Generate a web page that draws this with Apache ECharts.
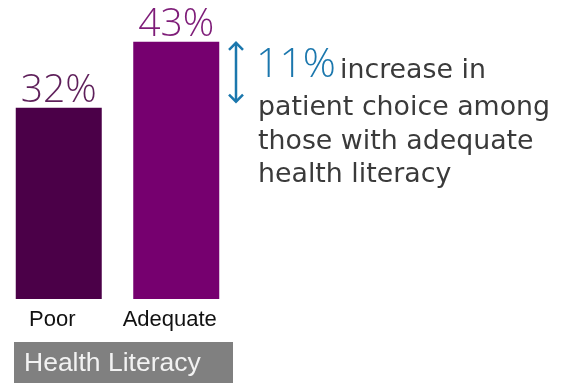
<!DOCTYPE html>
<html>
<head>
<meta charset="utf-8">
<script src="https://cdn.jsdelivr.net/npm/echarts@6/dist/echarts.min.js"></script>
<style>
  html, body { margin: 0; padding: 0; background: #fff; }
  #chart { width: 561px; height: 383px; }
</style>
</head>
<body>
<div id="chart"></div>
<script>
// Share of patients choosing, by health literacy level
const categories = ['Poor', 'Adequate'];
const values = [32, 43];
const barColors = ['#4b0048', '#76006f'];
const labelColors = ['#5e1f5a', '#7e1c78'];
const axisTitle = 'Health Literacy';
const noteHeadline = '11%';
const noteLines = ['increase in', 'patient choice among', 'those with adequate', 'health literacy'];

const chart = echarts.init(document.getElementById('chart'), null, { renderer: 'canvas' });

const option = {
  animation: false,
  grid: { left: 0, right: 326, top: 0, bottom: 84, containLabel: false },
  xAxis: {
    type: 'category',
    data: categories,
    axisLine: { show: false },
    axisTick: { show: false },
    axisLabel: {
      interval: 0,
      margin: 10,
      padding: [0, 13, 0, 0],
      fontFamily: 'Liberation Sans',
      fontSize: 22,
      color: '#111'
    }
  },
  yAxis: {
    type: 'value',
    min: 0,
    max: 50,
    show: false,
    splitLine: { show: false }
  },
  series: [{
    type: 'bar',
    barWidth: 86,
    data: values.map((v, i) => ({
      value: v,
      itemStyle: { color: barColors[i] },
      label: { color: labelColors[i] }
    })),
    label: {
      show: true,
      position: 'top',
      distance: -3,
      fontFamily: 'Open Sans',
      fontWeight: 300,
      fontSize: 39,
      formatter: p => p.value + '%'
    }
  }]
};
chart.setOption(option);

// Bracket arrow spanning the gap between the two bar heights
const yHigh = chart.convertToPixel({ yAxisIndex: 0 }, values[1]);
const yLow = chart.convertToPixel({ yAxisIndex: 0 }, values[0]);
const ax = 236;
const arrowTop = yHigh + 1;
const arrowBot = yLow - 6;
const blue = '#1b77ad';
const noteFont = '400 26.8px "DejaVu Sans"';
const noteColor = '#3a3a3a';

chart.setOption({
  graphic: [
    { type: 'line', shape: { x1: ax, y1: arrowTop, x2: ax, y2: arrowBot },
      style: { stroke: blue, lineWidth: 2.5 } },
    { type: 'polyline', shape: { points: [[ax - 7, arrowTop + 7], [ax, arrowTop], [ax + 7, arrowTop + 7]] },
      style: { stroke: blue, lineWidth: 2.5, fill: null } },
    { type: 'polyline', shape: { points: [[ax - 7, arrowBot - 7], [ax, arrowBot], [ax + 7, arrowBot - 7]] },
      style: { stroke: blue, lineWidth: 2.5, fill: null } },
    { type: 'text', left: 256, top: 45,
      style: { text: noteHeadline, fill: blue, font: '300 41px "Open Sans"' } },
    { type: 'text', left: 340, top: 58,
      style: { text: noteLines[0], fill: noteColor, font: noteFont } },
    { type: 'text', left: 258, top: 95,
      style: { text: noteLines[1], fill: noteColor, font: noteFont } },
    { type: 'text', left: 258, top: 129,
      style: { text: noteLines[2], fill: noteColor, font: noteFont } },
    { type: 'text', left: 258, top: 162,
      style: { text: noteLines[3], fill: noteColor, font: noteFont } },
    // Axis title band beneath the categories
    { type: 'rect', shape: { x: 14, y: 342, width: 219, height: 41 },
      style: { fill: '#808080' } },
    { type: 'text', left: 24, top: 350,
      style: { text: axisTitle, fill: '#f2f2f2', font: '26.5px "Liberation Sans"' } }
  ]
});
</script>
</body>
</html>
